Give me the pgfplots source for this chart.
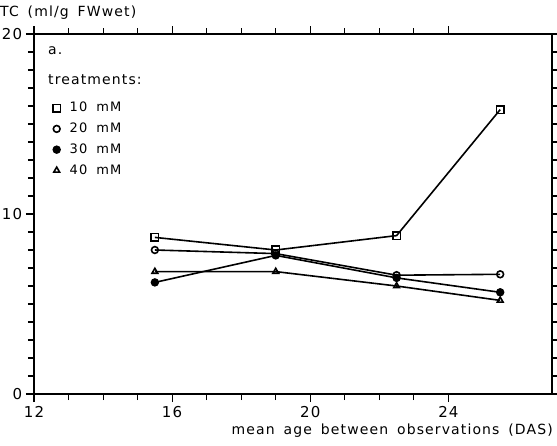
\documentclass[border=0pt]{standalone}
\usepackage{fontspec}
\setmainfont{DejaVu Sans}[LetterSpace=8,WordSpace=1.6]
\usepackage{pgfplots}
\pgfplotsset{compat=1.18}
\begin{document}
\fontsize{14pt}{16pt}\selectfont
\begin{tikzpicture}
\begin{axis}[
  scale only axis,
  width=518pt, height=360pt,
  xmin=12, xmax=27, ymin=0, ymax=20,
  xtick={12,16,20,24}, ytick={0,10,20},
  minor x tick num=3, minor y tick num=9,
  tick align=outside,
  major tick length=8pt, minor tick length=6pt,
  axis line style={line width=1.6pt},
  every tick/.style={black, line width=1.1pt},
  tick label style={font=\fontsize{15pt}{17pt}\selectfont},
  /pgf/number format/assume math mode=true,
  xticklabel style={yshift=1pt},
  yticklabel style={xshift=1pt},
  legend style={draw=none, fill=none, at={(0.028,0.822)}, anchor=north west,
    font=\fontsize{13pt}{15pt}\selectfont, row sep=5pt,
    legend cell align=left},
  legend image code/.code={\path[draw=none,fill=none] (0pt,-1pt) rectangle (16pt,1pt);\draw[mark repeat=2,mark phase=2,only marks,#1] plot coordinates {(0pt,0pt) (5pt,0pt) (14pt,0pt)};},
  every axis plot/.append style={black, line width=1.6pt, mark options={solid, line width=1.2pt}},
]
\addplot[mark=square, mark size=3.8pt, mark options={fill=white}] coordinates {(15.5,8.7) (19,8.0) (22.5,8.8) (25.5,15.8)};
\addlegendentry{10\hspace{0.7em}mM}
\addplot[mark=o, mark size=3.4pt, mark options={fill=white}] coordinates {(15.5,8.0) (19,7.8) (22.5,6.6) (25.5,6.65)};
\addlegendentry{20\hspace{0.7em}mM}
\addplot[mark=*, mark size=3.6pt] coordinates {(15.5,6.2) (19,7.7) (22.5,6.45) (25.5,5.65)};
\addlegendentry{30\hspace{0.7em}mM}
\addplot[mark=triangle, mark size=3.3pt, mark options={fill=white}] coordinates {(15.5,6.8) (19,6.8) (22.5,6.0) (25.5,5.2)};
\addlegendentry{40\hspace{0.7em}mM}
\end{axis}
\node[anchor=base west, inner sep=0pt] at (14pt,339pt) {a.};
\node[anchor=base west, inner sep=0pt] at (14pt,309pt) {treatments:};
\node[anchor=base west, inner sep=0pt] at (-34pt,377pt) {TC (ml/g FWwet)};
\node[anchor=base east, inner sep=0pt] at (519pt,-40pt) {mean age between observations (DAS)};
\pgfresetboundingbox
\path[use as bounding box] (-34pt,-51pt) rectangle (523pt,394pt);
\end{tikzpicture}
\end{document}
